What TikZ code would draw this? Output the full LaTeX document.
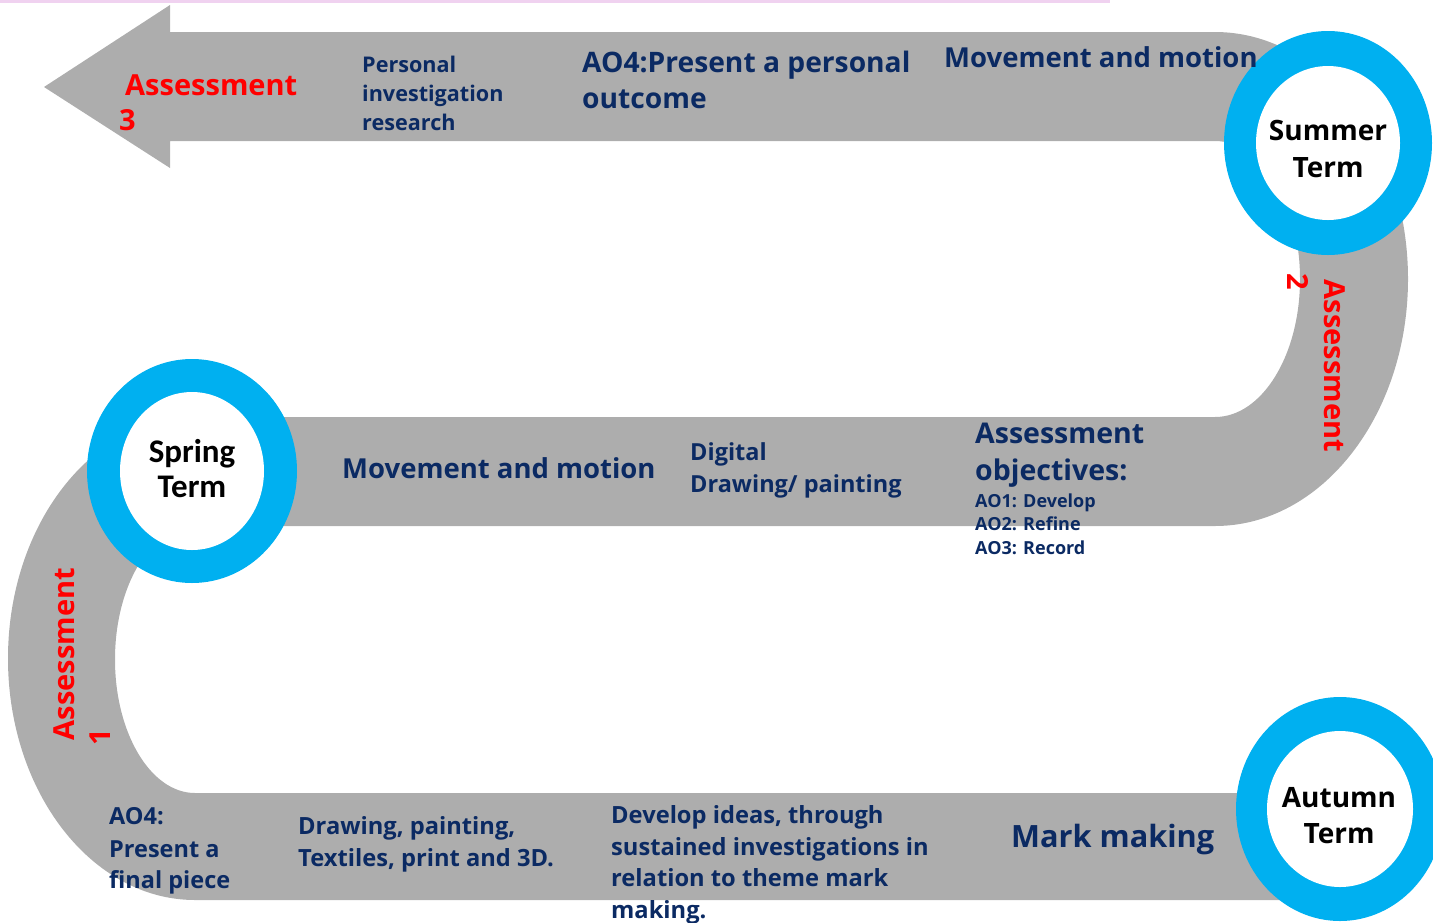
\documentclass[tikz,border=0pt]{standalone}
\usepackage{fontspec}
\setmainfont{Open Sans}
\newfontfamily\calib{Carlito}
\definecolor{band}{HTML}{ADADAD}
\definecolor{ring}{HTML}{00B0F0}
\definecolor{navy}{HTML}{0B2A63}
\definecolor{pinkline}{HTML}{F0D2F0}
\definecolor{asred}{HTML}{FF0000}
\begin{document}
\begin{tikzpicture}[x=1pt,y=-1pt,
  lbl/.style={anchor=base west, inner sep=0pt, text=navy, font=\bfseries\fontsize{#1}{#1}\selectfont},
  red/.style={inner sep=0pt, text=asred, font=\bfseries\fontsize{#1}{#1}\selectfont},
  term/.style={anchor=base, inner sep=0pt, text=black, font=\bfseries\fontsize{28}{28}\selectfont},
  outerring/.style={fill=ring},
  innerring/.style={fill=white}]
\useasboundingbox (0,0) rectangle (1433,922);
\clip (0,0) rectangle (1433,922);
% pink top line
\fill[pinkline] (0,0) rectangle (1110,3);
% grey serpentine band with arrow head
\fill[band] (44,87) -- (170,5) -- (170,32) -- (1215,32)
  arc[start angle=-90, end angle=90, x radius=193, y radius=247]
  -- (195,526)
  arc[start angle=-90, end angle=-270, x radius=80, y radius=133.5]
  -- (1300,793) -- (1300,900) -- (195,900)
  arc[start angle=90, end angle=270, x radius=187, y radius=241.5]
  -- (1215,417)
  arc[start angle=90, end angle=-90, x radius=85, y radius=138]
  -- (170,141) -- (170,168) -- cycle;
% rings
\fill[outerring] (1328,143) ellipse [x radius=104, y radius=112];
\fill[innerring] (1328,143) ellipse [x radius=72, y radius=77];
\fill[outerring] (192,471) ellipse [x radius=105, y radius=112];
\fill[innerring] (192,471) ellipse [x radius=72, y radius=79];
\fill[outerring] (1340,809) ellipse [x radius=104, y radius=112];
\fill[innerring] (1340,809) ellipse [x radius=73, y radius=78];
% term labels
\node[term] (sum1) at (1328,140) {Summer};
\node[term] (sum2) at (1328,177) {Term};
\node[term, font=\calib\bfseries\fontsize{33}{33}\selectfont] (spr1) at (192,462) {Spring};
\node[term, font=\calib\bfseries\fontsize{33}{33}\selectfont] (spr2) at (192,497) {Term};
\node[term] (aut1) at (1339,807) {Autumn};
\node[term] (aut2) at (1339,843) {Term};
% top band
\node[red=29, anchor=base west] (as3) at (125,95) {Assessment};
\node[red=29, anchor=base west] (as3n) at (119,130) {3};
\node[lbl=21.6] (pi1) at (362,72) {Personal};
\node[lbl=21.6] (pi2) at (362,101) {investigation};
\node[lbl=21.6] (pi3) at (362,130) {research};
\node[lbl=28.2] (ao4a) at (582,72) {AO4:Present a personal};
\node[lbl=28.2] (ao4b) at (582,108) {outcome};
\node[lbl=27.5] (mm1) at (944,67) {Movement and motion};
% right turn
\node[red=29, rotate=-90] (as2) at (1335,366) {Assessment};
\node[red=29, rotate=-90] (as2n) at (1298,282) {2};
% middle band
\node[lbl=27.5] (mm2) at (342,478) {Movement and motion};
\node[lbl=23.5] (dg1) at (690,460) {Digital};
\node[lbl=23.5] (dg2) at (690,492) {Drawing/ painting};
\node[lbl=28.5] (ao1) at (975,443) {Assessment};
\node[lbl=28.5] (ao2) at (975,480) {objectives:};
\node[lbl=18] (ao3) at (975,507) {AO1: Develop};
\node[lbl=18] (ao4) at (975,530) {AO2: Refine};
\node[lbl=18] (ao5) at (975,554) {AO3: Record};
% left turn
\node[red=29, rotate=90] (as1) at (64,654) {Assessment};
\node[red=29, rotate=90] (as1n) at (100,737) {1};
% bottom band
\node[lbl=23.5] (fp1) at (109,824) {AO4:};
\node[lbl=23.5] (fp2) at (109,857) {Present a};
\node[lbl=23.5] (fp3) at (109,888) {final piece};
\node[lbl=23.7] (dp1) at (298,834) {Drawing, painting,};
\node[lbl=23.7] (dp2) at (298,866) {Textiles, print and 3D.};
\node[lbl=23.7] (dv1) at (611,823) {Develop ideas, through};
\node[lbl=23.7] (dv2) at (611,855) {sustained investigations in};
\node[lbl=23.7] (dv3) at (611,886) {relation to theme mark};
\node[lbl=23.7] (dv4) at (611,918) {making.};
\node[lbl=30.7] (mk) at (1011,847) {Mark making};
\end{tikzpicture}
\end{document}
